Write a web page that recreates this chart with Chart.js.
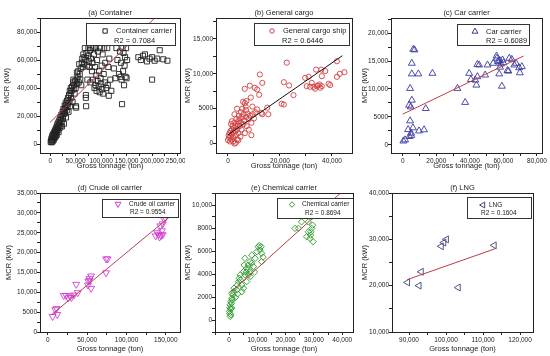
<!DOCTYPE html>
<html><head><meta charset="utf-8">
<script src="https://cdn.jsdelivr.net/npm/chart.js@4.4.1/dist/chart.umd.min.js"></script>
<style>
html,body{margin:0;padding:0;background:#fff;}
#wrap{position:relative;width:550px;height:356px;overflow:hidden;background:#fff;}
#wrap canvas{position:absolute;}
</style></head><body><div id="wrap"></div>
<script>
// ---------- (a) Container ----------
const containerX = [1000,2000,2500,3000,3500,4000,5000,5000,6000,6500,7000,7500,8000,8500,9000,9500,10000,10500,11000,11500,12000,12500,13000,13500,14000,15000,15500,16000,16500,17000,
 18000,18500,19000,20000,20500,21000,22000,22500,23000,24000,24500,25000,26000,26500,27000,28000,28500,29000,30000,30500,31000,32000,32500,33000,34000,35000,35500,36000,
 37000,38000,38500,39000,40000,40500,41000,42000,43000,44000,45000,45500,46000,47000,48000,49000,50000,50500,51000,52000,52500,53000,54000,55000,56000,57000,58000,59000,60000,61000,
 62000,63000,64000,65000,66000,67000,68000,69000,70000,70000,70500,71000,72000,73000,74000,75000,76000,77000,78000,79000,80000,81000,82000,83000,84000,85000,86000,87000,88000,89000,90000,90500,91000,92000,93000,94000,95000,96000,97000,98000,99000,100000,101000,102000,103000,104000,105000,106000,107000,108000,110000,112000,113000,114000,115000,116000,118000,120000,
 125000,128000,130000,132000,135000,137000,138000,139000,140000,141000,142000,143000,144000,145000,146000,147000,148000,149000,150000,151000,173000,178000,182000,186000,190000,195000,200000,205000,200000,210000,215000,222000,230000];
const containerY = [1500,2500,4000,1200,3000,5500,2000,6500,4000,7500,3000,5000,8500,6000,4500,9500,7000,10500,5500,8000,12000,9000,6500,11000,14000,10000,12500,15500,8500,13500,
 17000,11500,15000,19000,13000,17500,21000,16000,12500,20000,23000,18000,25000,21500,14500,24000,27500,22000,26000,29500,19000,28000,24000,31000,26500,33000,29000,23000,
 35000,31000,38000,27000,36000,40000,33000,38000,41000,30000,44000,46000,39000,42000,36000,45000,40000,27000,26000,46000,51000,43000,48000,52000,44000,57000,50000,46000,54000,42000,
 58000,61000,55000,64000,57000,62000,68500,60000,33000,35000,27000,65000,56000,46000,63000,68500,59000,55000,67000,44000,61000,68500,52000,58000,46000,68500,64000,40000,55000,42000,68500,49000,38000,60000,45000,66000,41000,52000,37000,68500,47000,43000,56000,39000,64000,36000,50000,68500,44000,58000,40000,68500,42000,55000,34500,61000,46000,38000,
 54000,47000,68500,60000,50000,66000,48000,58000,46000,28500,68500,52000,65000,42000,56000,62000,48000,68500,47000,60000,62000,60000,63000,64000,59000,61000,62000,59500,46000,61000,67000,60500,59500];
const containerFitX = [0, 230000];
const containerFitY = [15500, 99000];
const containerXTicks = [0, 50000, 100000, 150000, 200000, 250000];
const containerYTicks = [0, 20000, 40000, 60000, 80000];

// ---------- (b) General cargo ----------
const cargoX = [0,300,500,600,800,1000,1000,1200,1500,1500,1800,2000,2000,2200,2500,2500,2800,3000,3000,3200,3500,3500,3800,4000,4000,4200,4500,4500,4800,5000,5000,5200,5500,5500,6000,6000,6200,6500,6500,7000,7000,7200,7500,8000,8000,8500,9000,9000,9500,10000,10500,1500,2500,3500,5800,6800,1200,2000,3000,4000,
 6450,8400,10300,11200,12250,13200,12000,8800,9400,7100,11200,12900,15100,15500,13200,22600,21500,23500,25200,20600,21500,
 29700,31000,31600,30300,32250,32900,33500,34200,34600,33900,35200,35500,36100,35900,37400,36100,38700,39300,41900,41900,43000,44800];
const cargoY = [500,1200,800,1500,300,1800,1000,600,2000,1300,2500,900,1600,2200,0,3000,1800,2500,1200,3500,2000,600,2800,3200,1500,4000,2500,3600,1000,3000,4500,2000,3800,5000,2800,4200,3300,5800,1500,3800,4800,2500,4300,3500,2000,4000,3000,1200,4200,3600,4500,3200,4200,5000,6000,5300,2800,300,100,500,
 7850,8300,8000,7760,9900,8700,7000,6600,5300,6100,4900,4400,5140,4200,4200,11600,8800,8330,6950,5700,5600,
 9420,9570,8140,8230,8700,8140,7860,8230,8330,10600,8470,8000,8230,10600,10400,9660,8570,8380,11800,9570,10000,10230];
const cargoFitX = [0, 44000];
const cargoFitY = [1250, 12600];
const cargoXTicks = [0, 20000, 40000];
const cargoYTicks = [0, 5000, 10000, 15000];

// ---------- (c) Car carrier ----------
const carX = [400,1400,3200,3800,4400,4400,4800,5000,5100,5400,5400,5400,6100,6300,7000,9300,9700,12700,13700,17700,4000,
 32600,37200,39600,40600,43200,43900,44500,44500,45500,49100,50500,53900,55900,56100,56800,57500,57800,58500,58000,59100,59500,60000,62400,63000,63500,65000,67500,69400,69800,71000,66500];
const carY = [700,900,2750,7100,10100,4300,6800,2100,1700,14600,12700,8000,3050,17100,17000,12700,2500,2700,6500,12800,1500,
 10100,7600,12800,11700,11600,10700,12200,14400,14300,12500,14300,14600,15900,15500,14900,12700,15100,14500,13900,10500,15200,14700,13300,13200,15500,15300,14600,13800,12900,14000,14300];
const carFitX = [0, 72000];
const carFitY = [5500, 15900];
const carXTicks = [0, 20000, 40000, 60000, 80000];
const carYTicks = [0, 5000, 10000, 15000, 20000];

// ---------- (d) Crude oil carrier ----------
const crudeX = [6000,9500,12000,11000,20000,23000,26000,28000,30000,33000,36000,38000,51000,53000,55000,51500,55000,53000,74000,76000,74000,137000,139000,141000,142000,144000,145000,146000,143000,146000,148000,149000];
const crudeY = [3900,5600,4400,5900,9200,9200,8600,9100,8700,9300,12000,9900,11800,13500,14100,12800,11000,13000,18400,18400,14900,24200,25000,24600,23900,24300,25500,24500,26700,27200,28300,28800];
const crudeFitX = [5000, 158000];
const crudeFitY = [4400, 29500];
const crudeXTicks = [0, 50000, 100000, 150000];
const crudeYTicks = [0, 5000, 10000, 15000, 20000, 25000, 30000, 35000];

// ---------- (e) Chemical carrier ----------
const chemX = [350,600,100,940,350,600,940,1300,1530,1760,940,200,500,800,1100,300,
 2700,3300,3900,4500,5100,5300,5600,6200,6800,7400,8000,8600,9200,9800,10300,10700,10900,11300,11500,11500,6200,5100,4500,3600,2900,7400,6800,5600,8000,2200,3000,4000,6000,7000,9000,12000,7500,
 23300,24500,25600,28000,27400,28000,28600,28800,29200,29500,28900,29700,29200,28600];
const chemY = [350,490,780,1070,1350,1640,1930,2220,2500,2800,2360,600,1000,1500,1800,1100,
 2650,3370,3950,3080,4230,4800,5390,4520,3950,5100,5670,4670,5390,5960,6390,6500,6100,6400,5820,5100,3370,2790,2500,3660,3080,4230,4800,3950,4960,2000,2300,3500,4200,4500,4200,5500,3800,
 7980,7980,8550,8550,7260,7690,7110,7400,7980,8260,7690,6830,9000,9420];
const chemFitX = [800, 41000];
const chemFitY = [2500, 11400];
const chemXTicks = [0, 10000, 20000, 30000, 40000];
const chemYTicks = [0, 2000, 4000, 6000, 8000, 10000];

// ---------- (f) LNG ----------
const lngX = [89600, 92700, 93300, 98700, 99400, 100100, 103300, 113000];
const lngY = [20700, 20000, 23000, 28500, 29300, 30000, 19600, 28700];
const lngFitX = [89500, 113200];
const lngFitY = [21300, 27950];
const lngXTicks = [90000, 100000, 110000, 120000];
const lngYTicks = [10000, 20000, 30000, 40000];

const FONT = "'Liberation Sans', Arial, sans-serif";

const panels = [
 {title:'(a) Container', name:'Container carrier', r2:'R2 = 0.7084', xs:containerX, ys:containerY, fx:containerFitX, fy:containerFitY, xt:containerXTicks, yt:containerYTicks,
  xr:[-20000,255000], yr:[-6400,90000], style:'rect', rad:3.6, rot:0, color:'#222222', line:'#b83838',
  box:{CL:0,CT:0,CW:185,CH:178,L:40,R:183,T:18,B:153,pb:7.5,pt:2.5},
  leg:{ri:5,ti:5,w:89,h:22,sx:19,nx:30,rx:28,y1:8,y2:17.5,fs:7.5}},
 {title:'(b) General cargo', name:'General cargo ship', r2:'R2 = 0.6446', xs:cargoX, ys:cargoY, fx:cargoFitX, fy:cargoFitY, xt:cargoXTicks, yt:cargoYTicks,
  xr:[-4600,47700], yr:[-1350,18000], style:'circle', rad:2.6, rot:0, color:'#d04040', line:'#111111',
  box:{CL:183,CT:0,CW:182,CH:178,L:216,R:352,T:18,B:153,pb:7.5,pt:0},
  leg:{ri:3,ti:5,w:95,h:22,sx:18,nx:29,rx:28,y1:8,y2:17.5,fs:7.5}},
 {title:'(c) Car carrier', name:'Car carrier', r2:'R2 = 0.6089', xs:carX, ys:carY, fx:carFitX, fy:carFitY, xt:carXTicks, yt:carYTicks,
  xr:[-7000,83000], yr:[-1450,22700], style:'triangle', rad:4, rot:0, color:'#3a3aa0', line:'#c04040',
  box:{CL:360,CT:0,CW:190,CH:178,L:391,R:542,T:18,B:153,pb:7.5,pt:0},
  leg:{ri:13,ti:6,w:72,h:21,sx:18,nx:29,rx:29,y1:7.5,y2:16.5,fs:7.5}},
 {title:'(d) Crude oil carrier', name:'Crude oil carrier', r2:'R2 = 0.9554', xs:crudeX, ys:crudeY, fx:crudeFitX, fy:crudeFitY, xt:crudeXTicks, yt:crudeYTicks,
  xr:[-10000,168000], yr:[0,35000], style:'triangle', rad:4, rot:180, color:'#d040d0', line:'#b84050',
  box:{CL:0,CT:178,CW:185,CH:178,L:40,R:180,T:193,B:332,pb:2.5,pt:4.5},
  leg:{ri:2,ti:6,w:76,h:18,sx:16,nx:27,rx:28,y1:5,y2:13.5,fs:6.5}},
 {title:'(e) Chemical carrier', name:'Chemical carrier', r2:'R2 = 0.8694', xs:chemX, ys:chemY, fx:chemFitX, fy:chemFitY, xt:chemXTicks, yt:chemYTicks,
  xr:[-5000,43800], yr:[-1000,11050], style:'rectRot', rad:3.2, rot:0, color:'#2e9a2e', line:'#c03848',
  box:{CL:183,CT:178,CW:182,CH:178,L:215,R:353,T:193,B:332,pb:2.5,pt:0},
  leg:{ri:0,ti:5,w:76,h:20,sx:15,nx:25,rx:28,y1:6.5,y2:15,fs:6.5}},
 {title:'(f) LNG', name:'LNG', r2:'R2 = 0.1604', xs:lngX, ys:lngY, fx:lngFitX, fy:lngFitY, xt:lngXTicks, yt:lngYTicks,
  xr:[85400,123500], yr:[10000,40000], style:'triangle', rad:4, rot:270, color:'#404080', line:'#c03848',
  box:{CL:360,CT:178,CW:190,CH:178,L:392,R:533,T:193,B:332,pb:2.5,pt:0},
  leg:{ri:2,ti:4,w:64,h:21,sx:16,nx:22,rx:14,y1:8,y2:16.5,fs:6.5}}
];

function fmt(v){ return Math.abs(v) >= 10000 ? String(v).replace(/\B(?=(\d{3})+(?!\d))/g, ',') : String(v); }
function tickList(majors, min, max){
  const half = (majors[1]-majors[0])/2, out = [];
  for (let v = majors[0]-4*half; v <= max; v += half) if (v >= min && v <= max) out.push(v);
  return out;
}

function drawMarker(ctx, style, x, y, r, rot){
  if (window.Chart && Chart.helpers && Chart.helpers.drawPoint) {
    Chart.helpers.drawPoint(ctx, {pointStyle: style, radius: r, rotation: rot, borderWidth: 1}, x, y);
  }
}

const panelPlugin = {
  id: 'panelDeco',
  afterDatasetsDraw(chart){
    const p = chart.options.plugins.panelDeco;
    const a = chart.chartArea, ctx = chart.ctx, g = p.leg;
    ctx.save();
    const bx = a.right - g.ri - g.w, by = a.top + g.ti;
    ctx.fillStyle = '#fff';
    ctx.fillRect(bx, by, g.w, g.h);
    ctx.strokeStyle = '#333'; ctx.lineWidth = 1;
    ctx.strokeRect(Math.round(bx)+0.5, Math.round(by)+0.5, g.w, g.h);
    ctx.strokeStyle = p.color; ctx.fillStyle = 'rgba(0,0,0,0)'; ctx.lineWidth = 1;
    drawMarker(ctx, p.style, bx + g.sx, by + g.y1, p.rad * 0.85, p.rot);
    ctx.fillStyle = '#222';
    ctx.font = g.fs + 'px ' + FONT;
    ctx.textBaseline = 'middle'; ctx.textAlign = 'left';
    ctx.fillText(p.name, bx + g.nx, by + g.y1);
    ctx.fillText(p.r2, bx + g.rx, by + g.y2);
    ctx.strokeStyle = '#222'; ctx.lineWidth = 1;
    ctx.strokeRect(Math.round(a.left)+0.5, Math.round(a.top)+0.5, Math.round(a.right-a.left), Math.round(a.bottom-a.top));
    ctx.fillStyle = '#222';
    ctx.font = '7.5px ' + FONT;
    ctx.textAlign = 'center';
    ctx.fillText(p.title, (a.left + a.right)/2, a.top - 5.5);
    ctx.restore();
  }
};

const wrap = document.getElementById('wrap');
panels.forEach(p => {
  const b = p.box;
  const cv = document.createElement('canvas');
  cv.width = b.CW; cv.height = b.CH;
  cv.style.left = b.CL + 'px'; cv.style.top = b.CT + 'px';
  cv.style.width = b.CW + 'px'; cv.style.height = b.CH + 'px';
  wrap.appendChild(cv);
  const xTicksAll = tickList(p.xt, p.xr[0], p.xr[1]);
  const yTicksAll = tickList(p.yt, p.yr[0], p.yr[1]);
  const pts = p.xs.map((x, i) => ({x: x, y: p.ys[i]}));
  const fit = p.fx.map((x, i) => ({x: x, y: p.fy[i]}));
  const tickFont = {family: FONT, size: 6.5};
  new Chart(cv, {
    type: 'scatter',
    data: {datasets: [
      {type: 'scatter', data: pts, pointStyle: p.style, pointRadius: p.rad, pointRotation: p.rot,
       pointBorderColor: p.color, pointBackgroundColor: 'rgba(0,0,0,0)', pointBorderWidth: 0.9, order: 2},
      {type: 'line', data: fit, borderColor: p.line, borderWidth: 1, pointRadius: 0, fill: false, showLine: true, order: 1}
    ]},
    options: {
      responsive: false, animation: false, devicePixelRatio: 1,
      layout: {padding: {left: 0, top: b.T - b.CT, right: b.CW - (b.R - b.CL), bottom: 0}},
      plugins: {legend: {display: false}, tooltip: {enabled: false},
        panelDeco: {title: p.title, name: p.name, r2: p.r2, leg: p.leg, color: p.color, style: p.style, rad: p.rad, rot: p.rot}},
      scales: {
        x: {type: 'linear', position: 'bottom', min: p.xr[0], max: p.xr[1],
          afterBuildTicks: s => { s.ticks = xTicksAll.map(v => ({value: v})); },
          afterFit: s => { s.height = b.CH - (b.B - b.CT); s.paddingLeft = 0; s.paddingRight = 0; },
          ticks: {autoSkip: false, maxRotation: 0, minRotation: 0, padding: 1.5, color: '#222', font: tickFont,
            callback: v => p.xt.includes(v) ? fmt(v) : ''},
          grid: {drawOnChartArea: false, drawTicks: true, tickLength: 3, color: '#222', lineWidth: 1},
          border: {display: false},
          title: {display: true, text: 'Gross tonnage (ton)', color: '#222', font: {family: FONT, size: 7.5}, padding: {top: 0, bottom: b.pb}}},
        y: {type: 'linear', position: 'left', min: p.yr[0], max: p.yr[1],
          afterBuildTicks: s => { s.ticks = yTicksAll.map(v => ({value: v})); },
          afterFit: s => { s.width = b.L - b.CL; s.paddingTop = 0; s.paddingBottom = 0; },
          ticks: {autoSkip: false, padding: 0, color: '#222', font: tickFont,
            callback: v => p.yt.includes(v) ? fmt(v) : ''},
          grid: {drawOnChartArea: false, drawTicks: true, tickLength: 3, color: '#222', lineWidth: 1},
          border: {display: false},
          title: {display: true, text: 'MCR (kW)', color: '#222', font: {family: FONT, size: 7.5}, padding: {top: b.pt, bottom: 0}}}
      }
    },
    plugins: [panelPlugin]
  });
});
</script></body></html>
